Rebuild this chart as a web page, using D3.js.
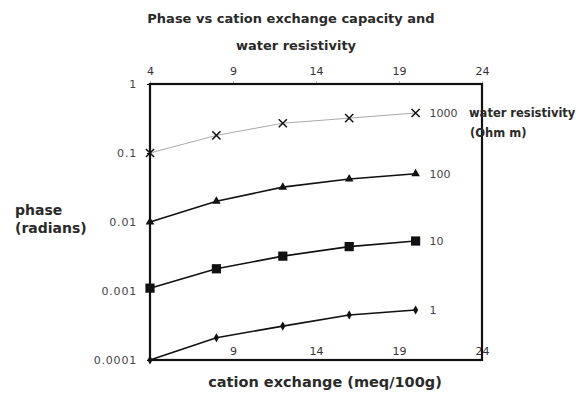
<!DOCTYPE html>
<html>
<head>
<meta charset="utf-8">
<script src="https://cdn.jsdelivr.net/npm/d3@7"></script>
<style>
  body { margin: 0; background: #fff; }
  text { font-family: "DejaVu Sans", Verdana, sans-serif; }
</style>
</head>
<body>
<script>
var width = 580
var height = 395

// cation exchange capacity (meq/100g)
var cec = [4, 8, 12, 16, 20]
var xTicks = [4, 9, 14, 19, 24]
var yTicks = [0.0001, 0.001, 0.01, 0.1, 1]

// phase (radians) for each water resistivity (Ohm m)
var phase1000 = [0.1, 0.18, 0.27, 0.32, 0.38]
var phase100 = [0.01, 0.02, 0.032, 0.042, 0.05]
var phase10 = [0.0011, 0.0021, 0.0032, 0.0044, 0.0053]
var phase1 = [0.0001, 0.00021, 0.00031, 0.00045, 0.00053]

var series = [
  { name: "1000", values: phase1000, symbol: "cross", stroke: "#aaa" },
  { name: "100", values: phase100, symbol: "triangle", stroke: "#111" },
  { name: "10", values: phase10, symbol: "square", stroke: "#111" },
  { name: "1", values: phase1, symbol: "diamond", stroke: "#111" }
]

var margin = { left: 150, right: 98, top: 84, bottom: 35 }

var x = d3.scaleLinear().domain([4, 24]).range([margin.left, width - margin.right])
var y = d3.scaleLog().domain([0.0001, 1]).range([height - margin.bottom, margin.top])

const svg = d3.select("body").append("svg")
  .attr("width", width).attr("height", height)

// bold-ish labels, softened a bit like the scanned original
function label(sel, size) {
  return sel.style("font-size", size).style("font-weight", "bold").style("fill", "#2a2a2a")
}

// title
label(svg.append("text"), "13px").attr("x", 291).attr("y", 23).attr("text-anchor", "middle")
  .text("Phase vs cation exchange capacity and")
label(svg.append("text"), "13px").attr("x", 296).attr("y", 50).attr("text-anchor", "middle")
  .text("water resistivity")

// axes
const fmt = d => String(d)
svg.append("g").attr("transform", `translate(${margin.left},0)`)
  .call(d3.axisLeft(y).tickValues(yTicks).tickFormat(fmt).tickSize(3).tickPadding(10))
  .call(g => g.select(".domain").remove())
  .selectAll("text").style("font-size", "11px").style("letter-spacing", "0.8px").style("fill", "#444")

svg.append("g").attr("transform", `translate(0,${margin.top})`)
  .call(d3.axisTop(x).tickValues(xTicks).tickSize(3).tickPadding(6))
  .call(g => g.select(".domain").remove())
  .call(g => g.selectAll("line").attr("stroke", "#bbb"))
  .selectAll("text").style("font-size", "11px").style("fill", "#333")

svg.append("g").attr("transform", `translate(0,${y(0.0001)})`)
  .call(d3.axisTop(x).tickValues(xTicks.slice(1)).tickSize(0).tickPadding(5))
  .call(g => g.select(".domain").remove())
  .selectAll("text").style("font-size", "11px").style("fill", "#333")

// frame
svg.append("rect")
  .attr("x", x(4)).attr("y", y(1))
  .attr("width", x(24) - x(4)).attr("height", y(0.0001) - y(1))
  .attr("fill", "none").attr("stroke", "#111").attr("stroke-width", 2.2)

// lines and markers
const line = d3.line().x((d, i) => x(cec[i])).y(d => y(d))
const symbols = {
  cross: d3.symbolX, triangle: d3.symbolTriangle,
  square: d3.symbolSquare, diamond: d3.symbolDiamond
}
const sizes = { cross: 45, triangle: 32, square: 85, diamond: 24 }

series.forEach(s => {
  svg.append("path").datum(s.values)
    .attr("d", line).attr("fill", "none")
    .attr("stroke", s.stroke).attr("stroke-width", s.symbol == "cross" ? 1 : 1.6)

  svg.append("g").selectAll("path").data(s.values).join("path")
    .attr("transform", (d, i) => `translate(${x(cec[i])},${y(d)})`)
    .attr("d", d3.symbol(symbols[s.symbol], sizes[s.symbol]))
    .attr("fill", "#111")
    .attr("stroke", "#111")
    .attr("stroke-width", s.symbol == "cross" ? 1.5 : 0)

  svg.append("text")
    .attr("x", x(cec[cec.length - 1]) + 14)
    .attr("y", y(s.values[s.values.length - 1]) + 4)
    .style("font-size", "11px").style("fill", "#444")
    .text(s.name)
})

// resistivity legend title
label(svg.append("text"), "11.5px").attr("x", 469).attr("y", 117).text("water resistivity")
label(svg.append("text"), "11.5px").attr("x", 470).attr("y", 137).text("(Ohm m)")

// axis titles
label(svg.append("text"), "14px").attr("x", 15).attr("y", 215).text("phase")
label(svg.append("text"), "14px").attr("x", 15).attr("y", 233).text("(radians)")
label(svg.append("text"), "14.5px").attr("x", 325).attr("y", 387).attr("text-anchor", "middle")
  .text("cation exchange (meq/100g)")
</script>
</body>
</html>
